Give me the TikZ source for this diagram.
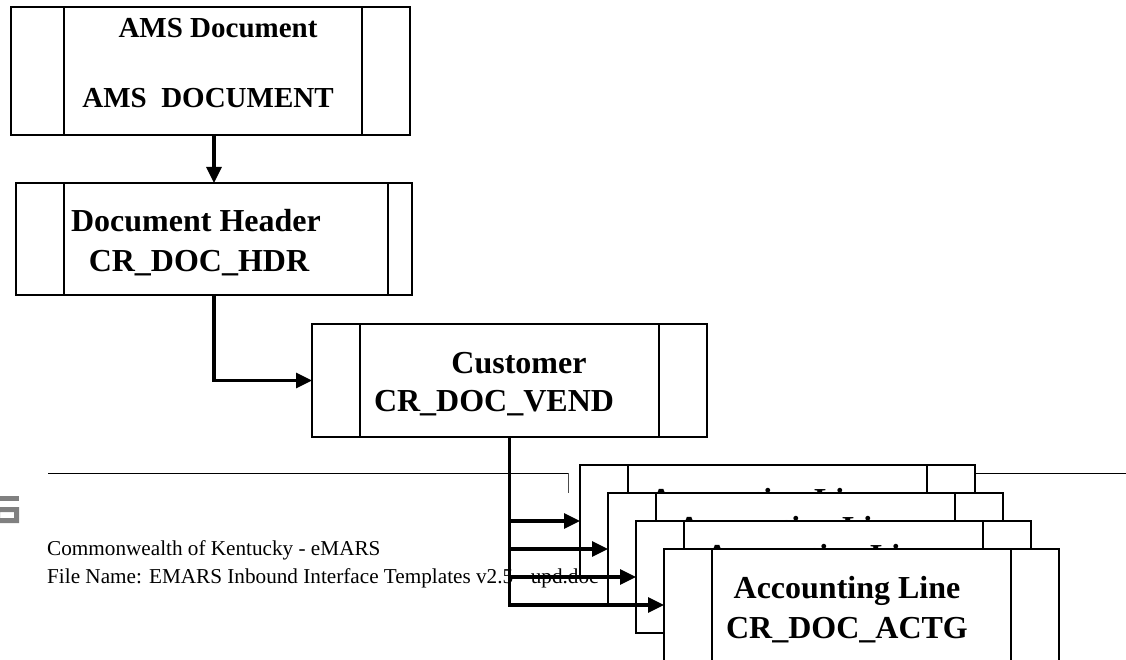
\documentclass[tikz,border=0pt]{standalone}
\usepackage{fontspec}
\setmainfont{Liberation Serif}
\usetikzlibrary{arrows.meta}
\begin{document}
\begin{tikzpicture}[x=1pt,y=-1pt,
  recbox/.style 2 args={draw, fill=white, line width=1.2pt, rectangle,
    inner sep=0pt, outer sep=0pt, anchor=north west,
    minimum width=#1, minimum height=#2},
  divline/.style={draw, line width=1.2pt},
  ttlA/.style={font=\bfseries\fontsize{29}{34}\selectfont, inner sep=0pt, anchor=base},
  ttlB/.style={font=\bfseries\fontsize{32}{38}\selectfont, inner sep=0pt, anchor=base},
  foot/.style={font=\fontsize{21.2}{25}\selectfont, inner sep=0pt, anchor=base west},
  conn/.style={draw, line width=3.2pt},
  tip/.style={-{Triangle[length=16pt,width=15pt]}},
  rule/.style={draw, line width=1pt}
]
\useasboundingbox (0,0) rectangle (1126,660);

% page footer: logo fragment, rule and document info
\definecolor{logogray}{RGB}{128,128,128}
\fill[logogray] (0,496) rectangle (19,501);
\fill[logogray, even odd rule] (0,507) rectangle (19,523) (0,512) rectangle (14,518);
\draw[rule] (48,473) -- (568,473);
\draw[line width=0.8pt, black!70] (568,473) -- (568,493);
\node[foot] (f1) at (47,555) {Commonwealth of Kentucky - eMARS};
\node[foot] (f2) at (47,583) {File Name: EMARS Inbound Interface Templates v2.5 - upd.doc};

% top-level document
\node[recbox={399pt}{128pt}] (b1) at (11,7) {};
\draw[divline] ([xshift=53pt]b1.north west) -- ([xshift=53pt]b1.south west);
\draw[divline] ([xshift=-48pt]b1.north east) -- ([xshift=-48pt]b1.south east);
\node[ttlA] (b1t) at (218,38) {AMS Document};
\node[ttlA] (b1n) at (208,108) {AMS\ \ DOCUMENT};

% document header
\node[recbox={396pt}{112pt}] (b2) at (16,183) {};
\draw[divline] ([xshift=48pt]b2.north west) -- ([xshift=48pt]b2.south west);
\draw[divline] ([xshift=-24pt]b2.north east) -- ([xshift=-24pt]b2.south east);
\node[ttlB] (b2t) at (196,232) {Document Header};
\node[ttlB] (b2n) at (199,271) {CR\_DOC\_HDR};

% customer
\node[recbox={395pt}{113pt}] (b3) at (312,324) {};
\draw[divline] ([xshift=48pt]b3.north west) -- ([xshift=48pt]b3.south west);
\draw[divline] ([xshift=-48pt]b3.north east) -- ([xshift=-48pt]b3.south east);
\node[ttlB] (b3t) at (519,373) {Customer};
\node[ttlB] (b3n) at (494,411) {CR\_DOC\_VEND};

% stacked accounting lines; the three back ones sit slightly higher in their boxes
\foreach \nm/\x/\y/\dy in {aA/580/465/45, aB/608/493/45, aC/636/521/45, aD/664/549/49}{
  \node[recbox={395pt}{112pt}] (\nm) at (\x,\y) {};
  \draw[divline] ([xshift=48pt]\nm.north west) -- ([xshift=48pt]\nm.south west);
  \draw[divline] ([xshift=-48pt]\nm.north east) -- ([xshift=-48pt]\nm.south east);
  \node[ttlB] (\nm t) at ([shift={(183pt,-\dy pt)}]\nm.north west) {Accounting Line};
  \node[ttlB] (\nm n) at ([shift={(183pt,-\dy pt-40pt)}]\nm.north west) {CR\_DOC\_ACTG};
}
\draw[rule] (aA.east |- 0,473) -- (1126,473);

% connectors
\draw[conn, tip] (b1.south -| b2.north) -- (b2.north);
\draw[conn, tip] (b2.south) |- (b3.west);
\draw[conn, tip] (b3.south) |- (aD.west);
\foreach \nm in {aA, aB, aC}{
  \draw[conn, tip] (b3.south |- \nm.west) -- (\nm.west);
}
\end{tikzpicture}
\end{document}
